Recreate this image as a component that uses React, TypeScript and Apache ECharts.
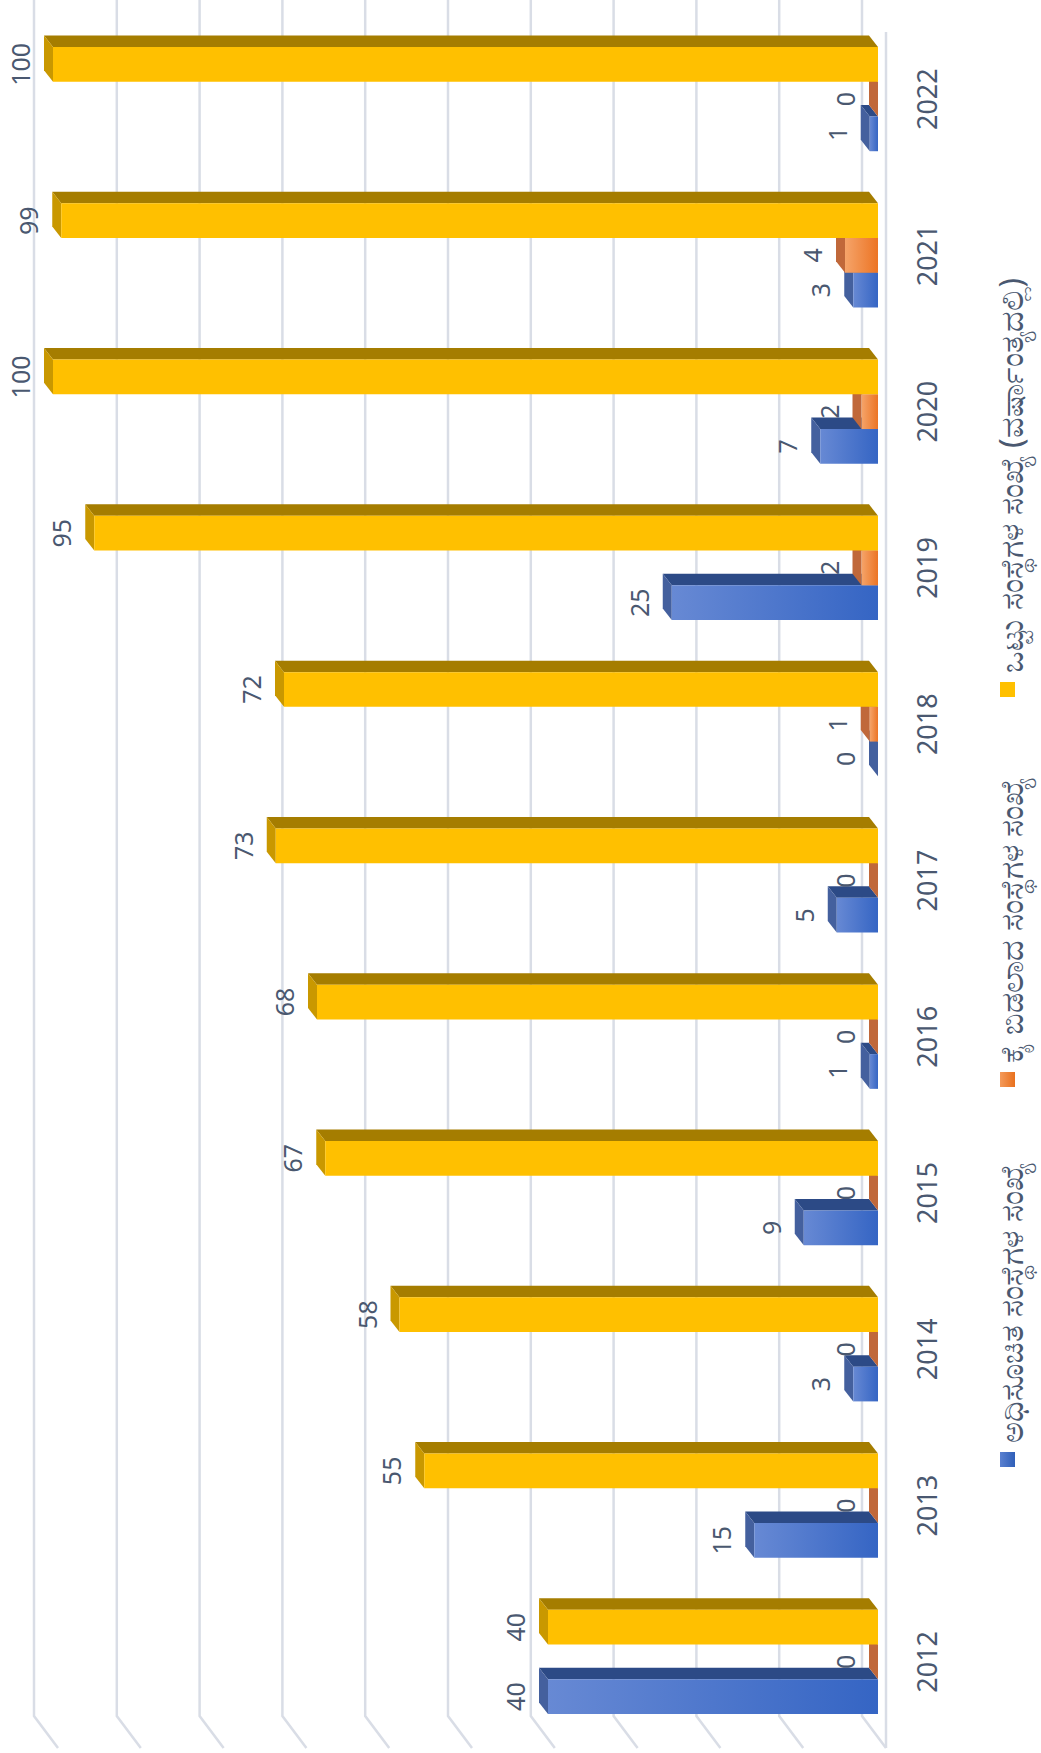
import React, { useEffect, useRef } from 'react';
import * as echarts from 'echarts';

const years = ['2012', '2013', '2014', '2015', '2016', '2017', '2018', '2019', '2020', '2021', '2022'];
const notified = [40, 15, 3, 9, 1, 5, 0, 25, 7, 3, 1];
const dropped = [0, 0, 0, 0, 0, 0, 1, 2, 2, 4, 0];
const totalAtYearEnd = [40, 55, 58, 67, 68, 73, 72, 95, 100, 99, 100];
const seriesNames = [
  'ಅಧಿಸೂಚಿತ ಸಂಸ್ಥೆಗಳ ಸಂಖ್ಯೆ',
  'ಕೈ ಬಿಡಲಾದ ಸಂಸ್ಥೆಗಳ ಸಂಖ್ಯೆ',
  'ಒಟ್ಟು ಸಂಸ್ಥೆಗಳ ಸಂಖ್ಯೆ (ವರ್ಷಾಂತ್ಯದಲ್ಲಿ)',
];
const gridTicks = [0, 10, 20, 30, 40, 50, 60, 70, 80, 90, 100];

const TEXT_COLOR = '#4a5870';
const DX = 9;
const DY = 11.5;

type Palette = { front: any; top: string; side: string; legend: any };

const palettes: Palette[] = [
  {
    front: new echarts.graphic.LinearGradient(0, 0, 1, 0, [
      { offset: 0, color: '#6789d4' },
      { offset: 1, color: '#3565c4' },
    ]),
    top: '#2c4a86',
    side: '#44609e',
    legend: new echarts.graphic.LinearGradient(0, 0, 1, 0, [
      { offset: 0, color: '#5a80d0' },
      { offset: 1, color: '#2f5fb8' },
    ]),
  },
  {
    front: new echarts.graphic.LinearGradient(0, 0, 1, 0, [
      { offset: 0, color: '#f5a46a' },
      { offset: 1, color: '#ec7424' },
    ]),
    top: '#b95c22',
    side: '#c0683a',
    legend: new echarts.graphic.LinearGradient(0, 0, 1, 0, [
      { offset: 0, color: '#f49a5a' },
      { offset: 1, color: '#e8701e' },
    ]),
  },
  {
    front: '#ffc000',
    top: '#a57d00',
    side: '#c99800',
    legend: '#ffc000',
  },
];

function geom(k: number, api: any) {
  const v = api.value(0);
  const c = api.value(1);
  const p1 = api.coord([v, c]);
  const p0 = api.coord([0, c]);
  const band = api.size([0, 1])[1];
  const bw = band * 0.2222;
  const yTop = p0[1] - 1.5 * bw + (2 - k) * bw;
  const yBot = yTop + bw;
  return { v, xL: p1[0], xR: p0[0], yTop, yBot };
}

function makeBarRender(k: number) {
  const pal = palettes[k];
  return (_params: any, api: any) => {
    const { xL, xR, yTop, yBot } = geom(k, api);
    const children: any[] = [];
    if (xR - xL > 0.1) {
      children.push({
        type: 'polygon',
        shape: { points: [[xL, yTop], [xR, yTop], [xR - DX, yTop - DY], [xL - DX, yTop - DY]] },
        style: { fill: pal.top },
      });
    }
    children.push({
      type: 'polygon',
      shape: { points: [[xL, yTop], [xL, yBot], [xL - DX, yBot - DY], [xL - DX, yTop - DY]] },
      style: { fill: pal.side },
    });
    if (xR - xL > 0.1) {
      children.push({
        type: 'rect',
        shape: { x: xL, y: yTop, width: xR - xL, height: yBot - yTop },
        style: { fill: pal.front },
      });
    }
    return { type: 'group', children };
  };
}

function makeLabelRender(k: number) {
  return (_params: any, api: any) => {
    const { v, xL, yTop, yBot } = geom(k, api);
    return {
      type: 'text',
      x: xL - 33,
      y: (yTop + yBot) / 2,
      rotation: Math.PI / 2,
      style: {
        text: String(v),
        align: 'center',
        verticalAlign: 'middle',
        fontSize: 25,
        fontFamily: 'Noto Sans, sans-serif',
        fill: TEXT_COLOR,
      },
    };
  };
}

function gridRender(_params: any, api: any) {
  const v = api.value(0);
  const top = api.coord([v, 1]);
  const bot = api.coord([v, 0]);
  const x = top[0];
  const stroke = '#d9dde6';
  const children: any[] = [
    {
      type: 'polyline',
      shape: { points: [[x, top[1]], [x, bot[1]], [x + 24, bot[1] + 32]] },
      style: { stroke, lineWidth: 2.5, fill: 'none' },
    },
  ];
  if (v === 0) {
    children.push({
      type: 'line',
      shape: { x1: x + 24, y1: top[1] + 32, x2: x + 24, y2: bot[1] + 32 },
      style: { stroke, lineWidth: 2.5 },
    });
  }
  return { type: 'group', children };
}

const seriesData = [notified, dropped, totalAtYearEnd];

export default function App() {
  const ref = useRef<HTMLDivElement>(null);
  useEffect(() => {
    document.body.style.margin = '0';
    if (!ref.current) return;
    const chart = echarts.init(ref.current, undefined, { renderer: 'svg' });

    const legendPos = [
      { mx: 1000, my: 1452, ty: 1448 },
      { mx: 1000, my: 1072, ty: 1068 },
      { mx: 1000, my: 682, ty: 678 },
    ];
    const graphic: any[] = [];
    seriesNames.forEach((name, i) => {
      const p = legendPos[i];
      graphic.push({
        type: 'rect',
        shape: { x: p.mx, y: p.my, width: 15, height: 15 },
        style: { fill: palettes[i].legend },
      });
      graphic.push({
        type: 'text',
        x: 1010,
        y: p.ty - 5,
        rotation: Math.PI / 2,
        style: {
          text: name,
          align: 'left',
          verticalAlign: 'middle',
          fontSize: 32,
          fontFamily: 'Noto Sans, sans-serif',
          fill: TEXT_COLOR,
        },
      });
    });

    const series: any[] = [
      {
        type: 'custom',
        name: 'grid',
        xAxisIndex: 1,
        yAxisIndex: 1,
        data: gridTicks.map((t) => [t]),
        encode: { x: 0 },
        renderItem: gridRender,
        silent: true,
        z: 1,
      },
    ];
    seriesData.forEach((arr, k) => {
      series.push({
        type: 'custom',
        name: seriesNames[k],
        xAxisIndex: 0,
        yAxisIndex: 0,
        data: arr.map((v, i) => [v, i]),
        encode: { x: 0, y: 1 },
        renderItem: makeBarRender(k),
        z: 2 + k,
      });
    });
    seriesData.forEach((arr, k) => {
      series.push({
        type: 'custom',
        name: seriesNames[k] + ' label',
        xAxisIndex: 0,
        yAxisIndex: 0,
        data: arr.map((v, i) => [v, i]),
        encode: { x: 0, y: 1 },
        renderItem: makeLabelRender(k),
        z: 10,
      });
    });

    chart.setOption({
      animation: false,
      backgroundColor: '#ffffff',
      grid: [
        { left: 53, right: 163, top: 21, bottom: 13 },
        { left: 34, right: 179, top: 0, bottom: 37 },
      ],
      xAxis: [
        { type: 'value', gridIndex: 0, min: 0, max: 100, inverse: true, show: false },
        { type: 'value', gridIndex: 1, min: 0, max: 100, inverse: true, show: false },
      ],
      yAxis: [
        {
          type: 'category',
          gridIndex: 0,
          data: years,
          position: 'right',
          axisLine: { show: false },
          axisTick: { show: false },
          splitLine: { show: false },
          axisLabel: {
            rotate: 90,
            margin: 35,
            fontSize: 27,
            fontFamily: 'Noto Sans, sans-serif',
            color: TEXT_COLOR,
          },
        },
        { type: 'value', gridIndex: 1, min: 0, max: 1, show: false },
      ],
      graphic,
      series,
    });
    return () => chart.dispose();
  }, []);
  return <div ref={ref} style={{ width: 1041, height: 1753 }} />;
}
